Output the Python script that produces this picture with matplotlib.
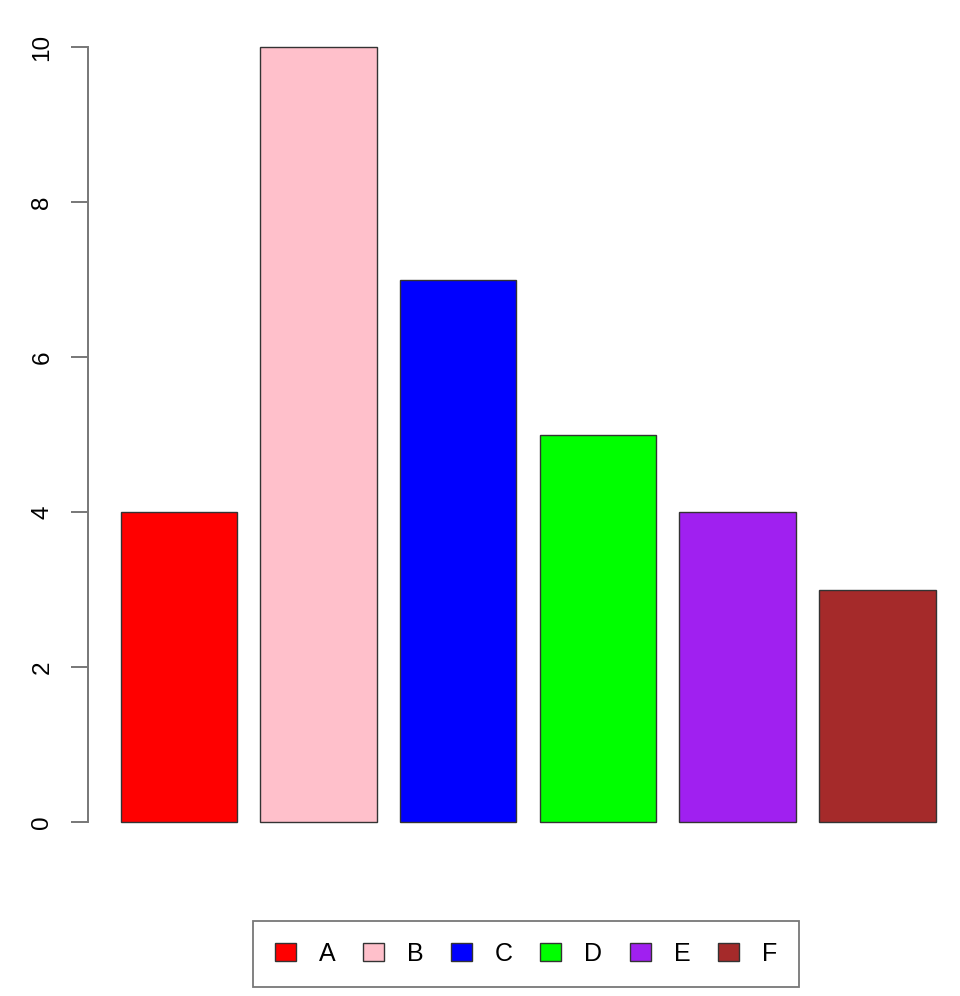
import matplotlib.pyplot as plt
from matplotlib.patches import Patch

plt.rcParams["font.family"] = ["Liberation Sans", "DejaVu Sans"]

# datos
categorias = ["A", "B", "C", "D", "E", "F"]
valores = [4, 10, 7, 5, 4, 3]
colores = ["red", "pink", "blue", "#00ff00", "#a020f0", "brown"]
yticks = [0, 2, 4, 6, 8, 10]

fig = plt.figure(figsize=(9.6, 9.96), dpi=100)
# area del grafico (estilo barplot de R)
ax = fig.add_axes([88 / 960, 1 - 853 / 996, 872 / 960, (853 - 16) / 996])

# barras de ancho 1 con espacio 0.2, como en R
posiciones = [0.2 + 1.2 * i for i in range(len(valores))]
ax.bar(posiciones, valores, width=1.0, align="edge", color=colores,
       edgecolor="#333333", linewidth=1.0)

ax.set_xlim(-0.08, -0.08 + 872 / 116.43)
ax.set_ylim(-0.4, 10.4)

for lado in ["top", "right", "bottom"]:
    ax.spines[lado].set_visible(False)
ax.spines["left"].set_bounds(0, 10)
ax.spines["left"].set_color("#777777")
ax.spines["left"].set_linewidth(1.4)
ax.set_xticks([])
ax.set_yticks(yticks)
ax.set_yticklabels([str(t) for t in yticks], rotation=90, va="center", fontsize=17.5)
ax.tick_params(axis="y", length=12, width=1.4, color="#777777", pad=13)

# leyenda horizontal abajo
handles = [Patch(facecolor=c, edgecolor="#333333", linewidth=1.0) for c in colores]
fig.legend(handles, categorias, loc="center", ncol=6,
           bbox_to_anchor=(526 / 960, 1 - 954 / 996), fontsize=18,
           frameon=True, fancybox=False, edgecolor="#555555",
           handlelength=0.84, handleheight=0.75, handletextpad=0.92,
           columnspacing=1.1, borderpad=0.85)
leg = fig.legends[0]
leg.get_frame().set_linewidth(1.3)

fig.savefig("out.png", dpi=100)
